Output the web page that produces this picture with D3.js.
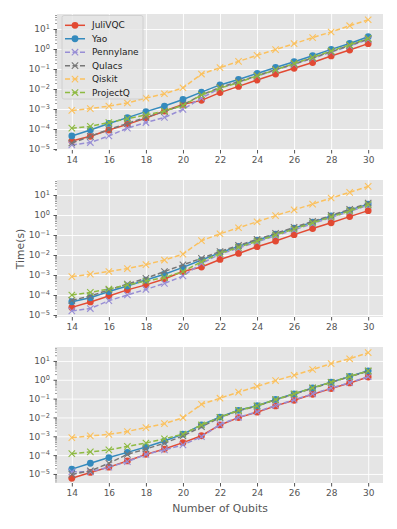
<!DOCTYPE html>
<html>
<head>
<meta charset="utf-8">
<script src="https://cdn.jsdelivr.net/npm/d3@7"></script>
<style>
  body { margin: 0; background: #fff; }
  svg { display: block; font-family: "DejaVu Sans", sans-serif; }
</style>
</head>
<body>
<svg id="chart" width="397" height="529"></svg>
<script>
var qubits = d3.range(14, 31);
var names = ["JuliVQC", "Yao", "Pennylane", "Qulacs", "Qiskit", "ProjectQ"];
var colours = ["#E24A33", "#348ABD", "#988ED5", "#777777", "#FBC15E", "#8EBA42"];
var markers = ["o", "o", "x", "x", "x", "x"];
var yTicks = [1e-5, 1e-4, 1e-3, 1e-2, 1e-1, 1e0, 1e1];
var xTicks = [14, 16, 18, 20, 22, 24, 26, 28, 30];

// top panel
var top_JuliVQC = [2.5e-5, 4.3e-5, 8.9e-5, 1.7e-4, 3.5e-4, 7.9e-4, 1.7e-3, 2.7e-3, 6.6e-3, 0.0135, 0.028, 0.056, 0.108, 0.21, 0.45, 0.89, 1.85];
var top_Yao = [4.5e-5, 8.9e-5, 1.9e-4, 3.7e-4, 7.4e-4, 1.4e-3, 3.0e-3, 7.0e-3, 0.016, 0.03, 0.06, 0.12, 0.23, 0.46, 0.96, 1.9, 4.1];
var top_Pennylane = [1.6e-5, 2.1e-5, 4.5e-5, 1.1e-4, 2.1e-4, 3.8e-4, 9.6e-4, 3.5e-3, 0.011, 0.022, 0.044, 0.088, 0.17, 0.34, 0.7, 1.4, 3.0];
var top_Qulacs = [2.0e-5, 4.3e-5, 9.5e-5, 1.9e-4, 3.8e-4, 7.5e-4, 1.6e-3, 5e-3, 0.012, 0.023, 0.047, 0.094, 0.18, 0.36, 0.74, 1.5, 3.2];
var top_Qiskit = [8.5e-4, 1.05e-3, 1.4e-3, 2e-3, 3.5e-3, 5.8e-3, 1.15e-2, 0.056, 0.117, 0.24, 0.48, 0.93, 1.85, 3.7, 7.1, 14.6, 29];
var top_ProjectQ = [1.1e-4, 1.35e-4, 2.1e-4, 3.3e-4, 5e-4, 7.9e-4, 1.5e-3, 5e-3, 0.011, 0.021, 0.046, 0.09, 0.19, 0.38, 0.8, 1.6, 3.4];

// middle panel
var mid_JuliVQC = [2.4e-5, 4.5e-5, 8.9e-5, 1.8e-4, 3.2e-4, 6.3e-4, 1.5e-3, 2.5e-3, 6e-3, 0.012, 0.026, 0.05, 0.104, 0.21, 0.41, 0.83, 1.65];
var mid_Yao = [4.6e-5, 7.3e-5, 1.5e-4, 2.8e-4, 5.6e-4, 1.1e-3, 2.4e-3, 5.6e-3, 0.013, 0.027, 0.055, 0.11, 0.22, 0.44, 0.9, 1.75, 3.5];
var mid_Pennylane = [1.6e-5, 2.1e-5, 5.2e-5, 1e-4, 1.9e-4, 3.8e-4, 8.9e-4, 3.8e-3, 0.011, 0.022, 0.045, 0.092, 0.18, 0.37, 0.75, 1.5, 3.1];
var mid_Qulacs = [5.4e-5, 8.9e-5, 1.8e-4, 3.5e-4, 6.8e-4, 1.5e-3, 3.2e-3, 6.8e-3, 0.015, 0.03, 0.06, 0.12, 0.24, 0.48, 0.95, 1.9, 3.9];
var mid_Qiskit = [8.3e-4, 1.1e-3, 1.5e-3, 2.1e-3, 3.3e-3, 5.6e-3, 0.011, 0.052, 0.115, 0.23, 0.46, 0.93, 1.8, 3.5, 7.1, 13.6, 27];
var mid_ProjectQ = [1e-4, 1.35e-4, 2e-4, 3.2e-4, 5e-4, 7.4e-4, 1.5e-3, 4.6e-3, 0.012, 0.024, 0.049, 0.1, 0.2, 0.4, 0.8, 1.6, 3.3];

// bottom panel
var bot_JuliVQC = [5.9e-6, 1.2e-5, 2.3e-5, 4.9e-5, 1.1e-4, 2.1e-4, 4.6e-4, 1.07e-3, 4e-3, 9.8e-3, 0.019, 0.041, 0.081, 0.17, 0.34, 0.68, 1.4];
var bot_Yao = [1.8e-5, 3.7e-5, 7.4e-5, 1.4e-4, 2.7e-4, 5.6e-4, 1.3e-3, 4e-3, 0.0105, 0.024, 0.042, 0.09, 0.18, 0.37, 0.75, 1.5, 3.0];
var bot_Pennylane = [1.3e-5, 1.3e-5, 2.3e-5, 4.5e-5, 1.1e-4, 1.9e-4, 3.5e-4, 9.5e-4, 4.2e-3, 0.0102, 0.02, 0.043, 0.085, 0.18, 0.36, 0.71, 1.45];
var bot_Qulacs = [9.5e-6, 1.45e-5, 3.7e-5, 1.1e-4, 2.1e-4, 4.3e-4, 1.05e-3, 3.2e-3, 0.0098, 0.023, 0.04, 0.087, 0.17, 0.36, 0.72, 1.45, 2.9];
var bot_Qiskit = [8.5e-4, 1.05e-3, 1.26e-3, 1.8e-3, 2.9e-3, 4.7e-3, 9.7e-3, 0.05, 0.105, 0.22, 0.45, 0.9, 1.74, 3.5, 7.2, 13, 27.6];
var bot_ProjectQ = [1.2e-4, 1.5e-4, 1.9e-4, 2.9e-4, 4.4e-4, 7.4e-4, 1.3e-3, 4e-3, 0.0102, 0.024, 0.041, 0.089, 0.18, 0.37, 0.74, 1.48, 2.95];

var panels = [
    {top: 14, bottom: 150, lo: -5.05, hi: 1.75, series: [top_JuliVQC, top_Yao, top_Pennylane, top_Qulacs, top_Qiskit, top_ProjectQ]},
    {top: 180, bottom: 317, lo: -5.1, hi: 1.75, series: [mid_JuliVQC, mid_Yao, mid_Pennylane, mid_Qulacs, mid_Qiskit, mid_ProjectQ]},
    {top: 347, bottom: 483, lo: -5.48, hi: 1.74, series: [bot_JuliVQC, bot_Yao, bot_Pennylane, bot_Qulacs, bot_Qiskit, bot_ProjectQ]}
];

var left = 57, right = 383;
var svg = d3.select("#chart");

var x = d3.scaleLinear().domain([13.2, 30.8]).range([left, right]);

function supLabel(sel) {
    sel.each(function(d) {
        var t = d3.select(this).text(null);
        var e = Math.round(Math.log10(d));
        t.append("tspan").text("10");
        t.append("tspan")
            .attr("dy", "-0.5em")
            .attr("font-size", "6.6px")
            .text(e < 0 ? "\u2212" + (-e) : "" + e);
    });
}

function drawMarker(g, type, cx, cy, colour) {
    if (type == "o") {
        g.append("circle")
            .attr("cx", cx).attr("cy", cy).attr("r", 3.4)
            .attr("fill", colour);
    } else {
        var s = 3.2;
        g.append("path")
            .attr("d", "M" + (cx - s) + "," + (cy - s) + "L" + (cx + s) + "," + (cy + s) +
                       "M" + (cx - s) + "," + (cy + s) + "L" + (cx + s) + "," + (cy - s))
            .attr("stroke", colour).attr("stroke-width", 1.1).attr("fill", "none");
    }
}

panels.forEach(function(p, pi) {
    var y = d3.scaleLog()
        .domain([Math.pow(10, p.lo), Math.pow(10, p.hi)])
        .range([p.bottom, p.top]);

    var g = svg.append("g");

    g.append("rect")
        .attr("x", left).attr("y", p.top)
        .attr("width", right - left).attr("height", p.bottom - p.top)
        .attr("fill", "#E5E5E5");

    // grid
    g.append("g")
        .attr("transform", "translate(0," + p.bottom + ")")
        .call(d3.axisBottom(x).tickValues(xTicks).tickSize(-(p.bottom - p.top)).tickFormat(""))
        .call(function(a) { a.select(".domain").remove(); })
        .selectAll("line").attr("stroke", "#fff").attr("stroke-width", 0.9);

    g.append("g")
        .attr("transform", "translate(" + left + ",0)")
        .call(d3.axisLeft(y).tickValues(yTicks).tickSize(-(right - left)).tickFormat(""))
        .call(function(a) { a.select(".domain").remove(); })
        .selectAll("line").attr("stroke", "#fff").attr("stroke-width", 0.9);

    // x axis
    var xa = g.append("g")
        .attr("transform", "translate(0," + p.bottom + ")")
        .call(d3.axisBottom(x).tickValues(xTicks).tickSize(3.5).tickPadding(3))
        .call(function(a) { a.select(".domain").remove(); });
    xa.selectAll("line").attr("stroke", "#555");
    xa.selectAll("text").attr("fill", "#555").attr("font-size", "9px")
        .attr("font-family", "DejaVu Sans");

    // y minor ticks
    var minors = [];
    for (var e = -6; e <= 1; e++) {
        for (var m = 2; m <= 9; m++) {
            var v = m * Math.pow(10, e);
            if (Math.log10(v) >= p.lo && Math.log10(v) <= p.hi) minors.push(v);
        }
    }
    var ym = g.append("g")
        .attr("transform", "translate(" + left + ",0)")
        .call(d3.axisLeft(y).tickValues(minors).tickSize(2).tickFormat(""))
        .call(function(a) { a.select(".domain").remove(); });
    ym.selectAll("line").attr("stroke", "#555").attr("stroke-width", 0.6);

    var ya = g.append("g")
        .attr("transform", "translate(" + left + ",0)")
        .call(d3.axisLeft(y).tickValues(yTicks).tickSize(3.5).tickPadding(3.5))
        .call(function(a) { a.select(".domain").remove(); });
    ya.selectAll("line").attr("stroke", "#555");
    ya.selectAll("text").attr("fill", "#555").attr("font-size", "9px")
        .attr("font-family", "DejaVu Sans")
        .call(supLabel);

    // data
    var line = d3.line()
        .x(function(d, i) { return x(qubits[i]); })
        .y(function(d) { return y(d); });

    p.series.forEach(function(vals, si) {
        var sg = g.append("g");
        sg.append("path")
            .datum(vals)
            .attr("d", line)
            .attr("fill", "none")
            .attr("stroke", colours[si])
            .attr("stroke-width", 1.5)
            .attr("stroke-dasharray", markers[si] == "o" ? null : "5,2.5");
        vals.forEach(function(v, i) {
            drawMarker(sg, markers[si], x(qubits[i]), y(v), colours[si]);
        });
    });

    // legend on the first panel
    if (pi == 0) {
        var lg = g.append("g");
        lg.append("rect")
            .attr("x", 62).attr("y", 15.5).attr("width", 81).attr("height", 83.5)
            .attr("rx", 2)
            .attr("fill", "#E5E5E5").attr("fill-opacity", 0.8)
            .attr("stroke", "#CCCCCC").attr("stroke-width", 0.8);
        names.forEach(function(n, i) {
            var ly = 25.3 + i * 13.45;
            lg.append("line")
                .attr("x1", 65).attr("x2", 85).attr("y1", ly).attr("y2", ly)
                .attr("stroke", colours[i]).attr("stroke-width", 1.5)
                .attr("stroke-dasharray", markers[i] == "o" ? null : "5,2.5");
            drawMarker(lg, markers[i], 75, ly, colours[i]);
            lg.append("text")
                .attr("x", 92).attr("y", ly)
                .attr("dy", "0.35em")
                .attr("font-size", "9px")
                .attr("fill", "#222")
                .text(n);
        });
    }
});

svg.append("text")
    .attr("transform", "translate(20," + 249 + ") rotate(-90)")
    .attr("text-anchor", "middle")
    .attr("dy", "0.35em")
    .attr("font-size", "10.8px")
    .attr("fill", "#555")
    .text("Time(s)");

svg.append("text")
    .attr("x", (left + right) / 2)
    .attr("y", 508)
    .attr("text-anchor", "middle")
    .attr("dy", "0.35em")
    .attr("font-size", "10.8px")
    .attr("fill", "#555")
    .text("Number of Qubits");
</script>
</body>
</html>
